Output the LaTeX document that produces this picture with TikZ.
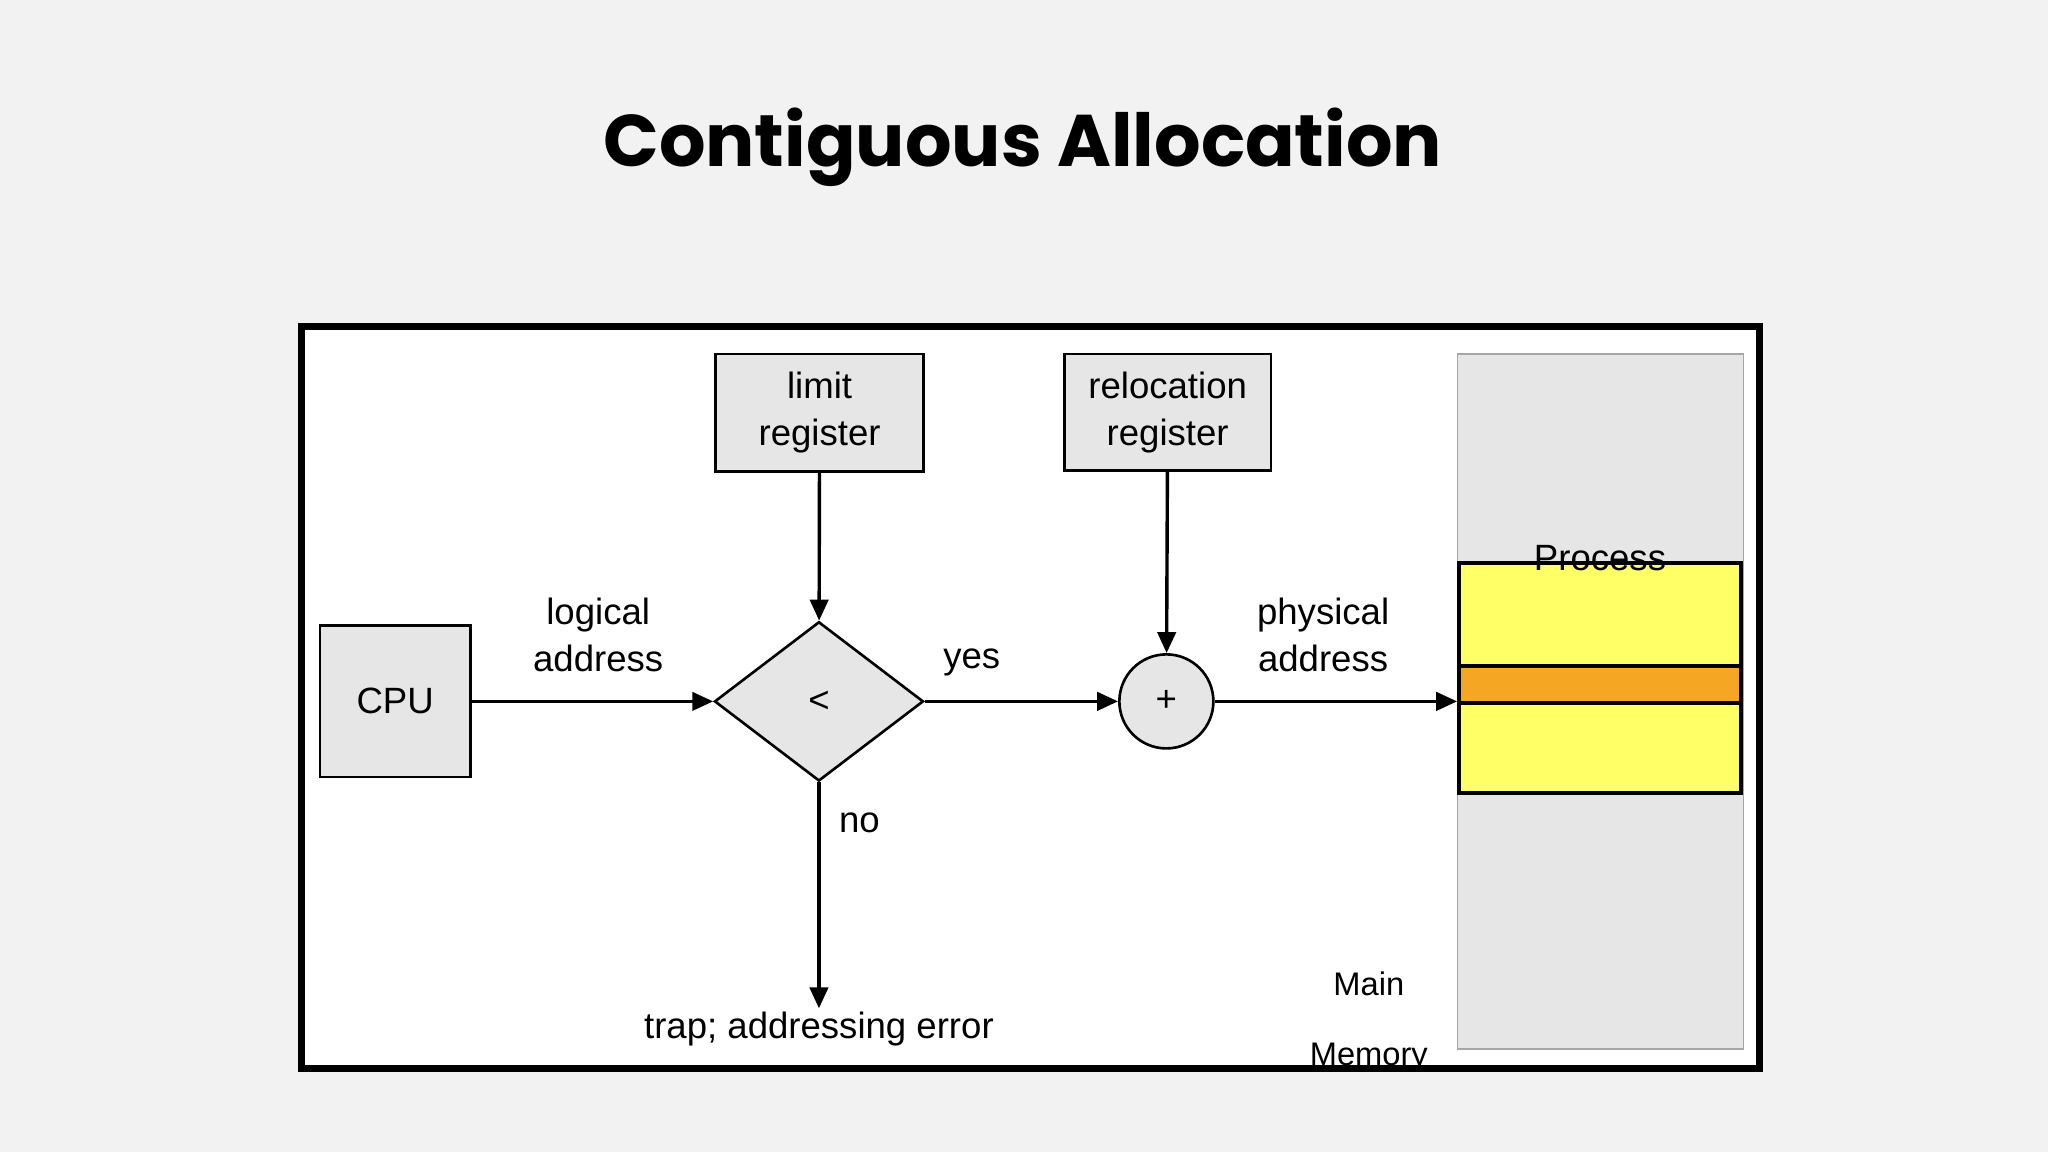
\documentclass[tikz,border=0pt]{standalone}
\usepackage{fontspec}
\setmainfont{Liberation Sans}
\newfontfamily\titlefont{Poppins}
\usetikzlibrary{shapes.geometric,arrows.meta}
\definecolor{bg}{HTML}{F2F2F2}
\definecolor{boxg}{HTML}{E6E6E6}
\definecolor{yel}{HTML}{FFFF66}
\definecolor{org}{HTML}{F5A623}
\begin{document}
\begin{tikzpicture}[x=0.5pt,y=-0.5pt,
  box/.style={draw,fill=boxg,line width=1pt,align=center,font=\fontsize{14}{18}\selectfont,inner sep=0pt},
  lab/.style={align=center,font=\fontsize{14}{18}\selectfont},
  arr/.style={-{Triangle[length=8pt,width=7pt]},line width=1.3pt}]
\fill[bg] (0,0) rectangle (1568,882);
\useasboundingbox (0,0) rectangle (1568,882);
\node[font=\titlefont\bfseries\fontsize{28}{32}\selectfont] (title) at (783,113) {Contiguous Allocation};
\draw[fill=white,line width=2.5pt] (231,250) rectangle (1347,818);
\node[box,minimum width=57.5pt,minimum height=58pt] (cpu) at (302.5,537) {CPU};
\node[box,minimum width=79.5pt,minimum height=45pt] (lim) at (627.5,316) {limit\\register};
\node[box,minimum width=79pt,minimum height=44.5pt] (rel) at (894,315.5) {relocation\\register};
\node[diamond,draw,fill=boxg,line width=1pt,minimum width=80pt,minimum height=61pt,inner sep=0pt,font=\fontsize{14}{18}\selectfont] (dia) at (627,537) {<};
\node[circle,draw,fill=boxg,line width=1pt,minimum size=36pt,inner sep=0pt,font=\fontsize{14}{18}\selectfont] (plus) at (893,537) {+};
\draw[fill=boxg,draw=gray!70,line width=0.6pt] (1116,271) rectangle (1335,803);
\node[draw=none,minimum width=109.5pt,minimum height=266pt,inner sep=0pt] (mem) at (1225.5,537) {};
\draw[fill=yel,line width=1.5pt] (1117,431) rectangle (1333,607);
\draw[fill=org,line width=1.5pt] (1117,510) rectangle (1333,538);
\node[lab] (proc) at (1225,427) {Process};
\coordinate (trap) at (627,772);
\draw[arr] (cpu) -- (dia);
\draw[arr] (lim) -- (dia);
\draw[arr] (dia) -- (plus);
\draw[arr] (rel) -- (plus);
\draw[arr] (plus) -- (mem.west);
\draw[arr] (dia) -- (trap);
\node[lab] (la) at (458,486) {logical\\address};
\node[lab] (yes) at (744,507) {yes};
\node[lab] (no) at (658,630) {no};
\node[lab] (pa) at (1013,486) {physical\\address};
\node[lab] (te) at (627,788) {trap; addressing error};
\node[lab,font=\fontsize{12.5}{15}\selectfont] (main) at (1048,753) {Main};
\node[lab,font=\fontsize{12.5}{15}\selectfont] (memory) at (1048,810) {Memory};
\end{tikzpicture}
\end{document}
